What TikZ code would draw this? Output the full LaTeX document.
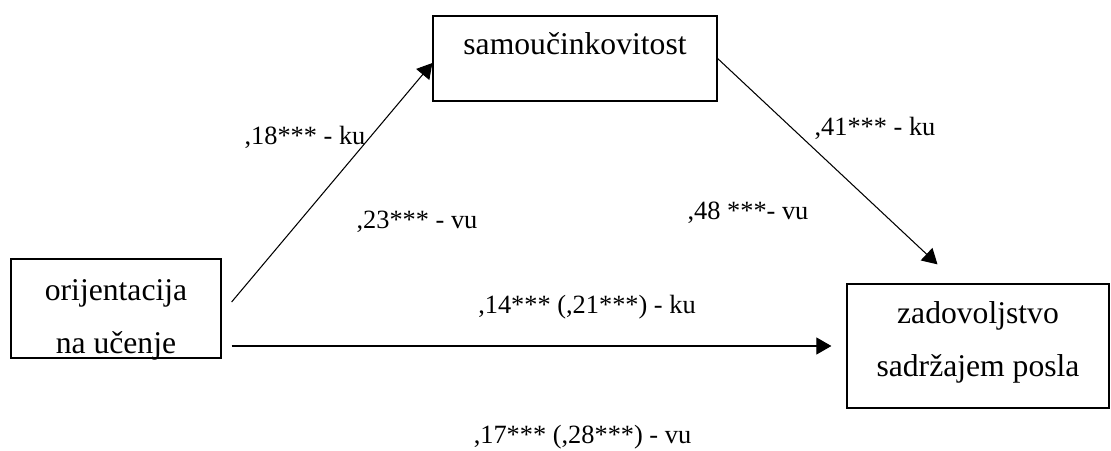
\documentclass[tikz,border=0pt]{standalone}
\usepackage{fontspec}
\setmainfont{Liberation Serif}
\usetikzlibrary{arrows.meta}

\begin{document}
\begin{tikzpicture}[
        box/.style={draw, rectangle, line width=0.7pt},
        txt/.style={align=center, font=\fontsize{18}{30.2}\selectfont},
        lbl/.style={font=\fontsize{15}{18}\selectfont},
        arr/.style={line width=0.6pt, -{Triangle[length=0.3cm, width=0.34cm]}}
    ]
        \useasboundingbox (0, 0) rectangle (22.22, 9);

        % Varijable (okviri)
        \node[box, minimum width=4.2cm, minimum height=1.98cm] (orij) at (2.32, 2.83) {}; % prediktor
        \node[box, minimum width=5.68cm, minimum height=1.7cm] (samo) at (11.5, 7.83) {}; % medijator
        \node[box, minimum width=5.24cm, minimum height=2.48cm] (zad) at (19.56, 2.08) {}; % kriterij

        % Nazivi varijabli
        \node[txt] (orijT) at ([yshift=-0.22cm]orij.center) {orijentacija\\na učenje};
        \node[txt] (samoT) at ([yshift=0.29cm]samo.center) {samoučinkovitost};
        \node[txt] (zadT) at ([yshift=0.07cm]zad.center) {zadovoljstvo\\sadržajem posla};

        % Putevi
        \draw[arr] ([xshift=0.2cm, yshift=0.13cm]orij.east) -- ([yshift=-0.09cm]samo.west);
        \draw[arr] (samo.east) -- ([xshift=-0.81cm, yshift=0.38cm]zad.north);
        \draw[arr] ([xshift=0.2cm, yshift=-0.75cm]orij.east) -- ([xshift=-0.3cm]zad.west);

        % Koeficijenti
        \node[lbl] (a1) at (6.1, 6.26) {,18*** - ku};
        \node[lbl] (a2) at (8.34, 4.56) {,23*** - vu};
        \node[lbl] (b1) at (17.5, 6.44) {,41*** - ku};
        \node[lbl] (b2) at (14.96, 4.74) {,48 ***- vu};
        \node[lbl] (c1) at (11.74, 2.86) {,14*** (,21***) - ku};
        \node[lbl] (c2) at (11.65, 0.26) {,17*** (,28***) - vu};

    \end{tikzpicture}
\end{document}
